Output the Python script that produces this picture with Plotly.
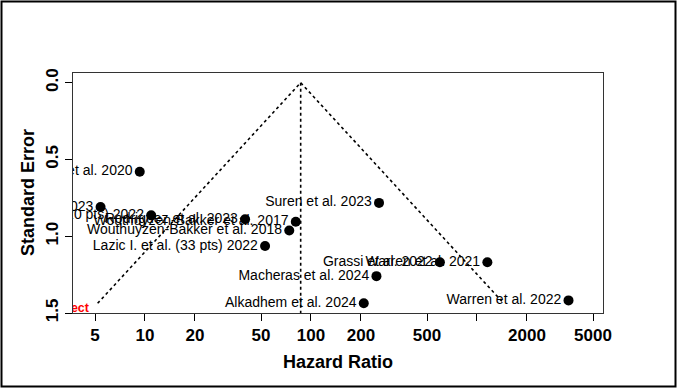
import numpy as np
import plotly.graph_objects as go

# ---- data ----
studies = [
    "Kunutsor et al. 2020",
    "Xu et al. 2023",
    "Lazic I. et al. (20 pts) 2022",
    "Rodriguez et al. 2023",
    "Wouthuyzen-Bakker et al. 2017",
    "Wouthuyzen-Bakker et al. 2018",
    "Lazic I. et al. (33 pts) 2022",
    "Suren et al. 2023",
    "Macheras et al. 2024",
    "Grassi et al. 2022",
    "Warren et al. 2021",
    "Warren et al. 2022",
    "Alkadhem et al. 2024",
]
hazard_ratio = [9.3, 5.4, 10.9, 40.1, 81, 74, 52.9, 257, 248, 598, 1155, 3560, 208]
std_error = [0.58, 0.81, 0.864, 0.89, 0.906, 0.963, 1.064, 0.783, 1.26, 1.17, 1.17, 1.418, 1.437]

pooled_hr = 86.7
z = 1.96
x_tick_vals = [5, 10, 20, 50, 100, 200, 500, 1000, 2000, 5000]
x_tick_text = ["5", "10", "20", "50", "100", "200", "500", "", "2000", "5000"]
y_tick_vals = [0.0, 0.5, 1.0, 1.5]
y_tick_text = ["0.0", "0.5", "1.0", "1.5"]
pooled_label = "Pooled effect"
pooled_label_pos = (4.6, 1.475)

se_max = max(std_error)
lo_end = float(np.exp(np.log(pooled_hr) - z * se_max))
hi_end = float(np.exp(np.log(pooled_hr) + z * se_max))

FONT = "Liberation Sans, Arial, Helvetica, sans-serif"

fig = go.Figure()

# funnel lines
fig.add_trace(go.Scatter(
    x=[lo_end, pooled_hr, hi_end], y=[se_max, 0, se_max],
    mode="lines", line=dict(color="black", width=1.6, dash="dot"),
    hoverinfo="skip", showlegend=False))
fig.add_trace(go.Scatter(
    x=[pooled_hr, pooled_hr], y=[0, 1.5],
    mode="lines", line=dict(color="black", width=1.6, dash="dot"),
    hoverinfo="skip", showlegend=False))

# studies
fig.add_trace(go.Scatter(
    x=hazard_ratio, y=std_error, mode="markers+text",
    text=studies, textposition="middle left",
    textfont=dict(family=FONT, size=14, color="black"),
    marker=dict(color="black", size=10),
    cliponaxis=True, showlegend=False))

# red clipped label
fig.add_trace(go.Scatter(
    x=[pooled_label_pos[0]], y=[pooled_label_pos[1]], mode="text",
    text=["<b>" + pooled_label + "</b>"],
    textposition="middle left",
    textfont=dict(family=FONT, size=12.5, color="red"),
    cliponaxis=True, showlegend=False))

fig.update_xaxes(
    type="log", range=[np.log10(5) - 22 / 166, np.log10(5) + 508 / 166],
    tickmode="array", tickvals=x_tick_vals, ticktext=x_tick_text,
    ticks="outside", ticklen=7, tickcolor="black", tickwidth=1,
    showline=True, linecolor="#333", linewidth=1, mirror=True,
    showgrid=False, zeroline=False,
    tickfont=dict(family=FONT, size=17, color="black", weight="bold"),
)
fig.update_yaxes(
    range=[1.5, -0.063],
    tickmode="array", tickvals=y_tick_vals, ticktext=y_tick_text,
    tickangle=-90,
    ticks="outside", ticklen=7, tickcolor="black", tickwidth=1,
    showline=True, linecolor="#333", linewidth=1, mirror=True,
    showgrid=False, zeroline=False,
    tickfont=dict(family=FONT, size=17, color="black", weight="bold"),
)

fig.update_layout(
    width=677, height=388,
    margin=dict(l=73, r=74, t=73, b=75),
    paper_bgcolor="white", plot_bgcolor="white",
    annotations=[
        dict(text="<b>Hazard Ratio</b>", xref="paper", yref="paper",
             x=0.5, y=(313 - 362) / 240, showarrow=False,
             xanchor="center", yanchor="middle",
             font=dict(family=FONT, size=18, color="black")),
        dict(text="<b>Standard Error</b>", xref="paper", yref="paper",
             x=(28 - 73) / 530, y=0.5, showarrow=False, textangle=-90,
             xanchor="center", yanchor="middle",
             font=dict(family=FONT, size=18, color="black")),
    ],
    shapes=[
        dict(type="rect", xref="paper", yref="paper",
             x0=(1.5 - 73) / 530, x1=(675.5 - 73) / 530,
             y0=(313 - 386.5) / 240, y1=(313 - 1.5) / 240,
             line=dict(color="black", width=2)),
    ],
)

fig.write_html("out.html")
